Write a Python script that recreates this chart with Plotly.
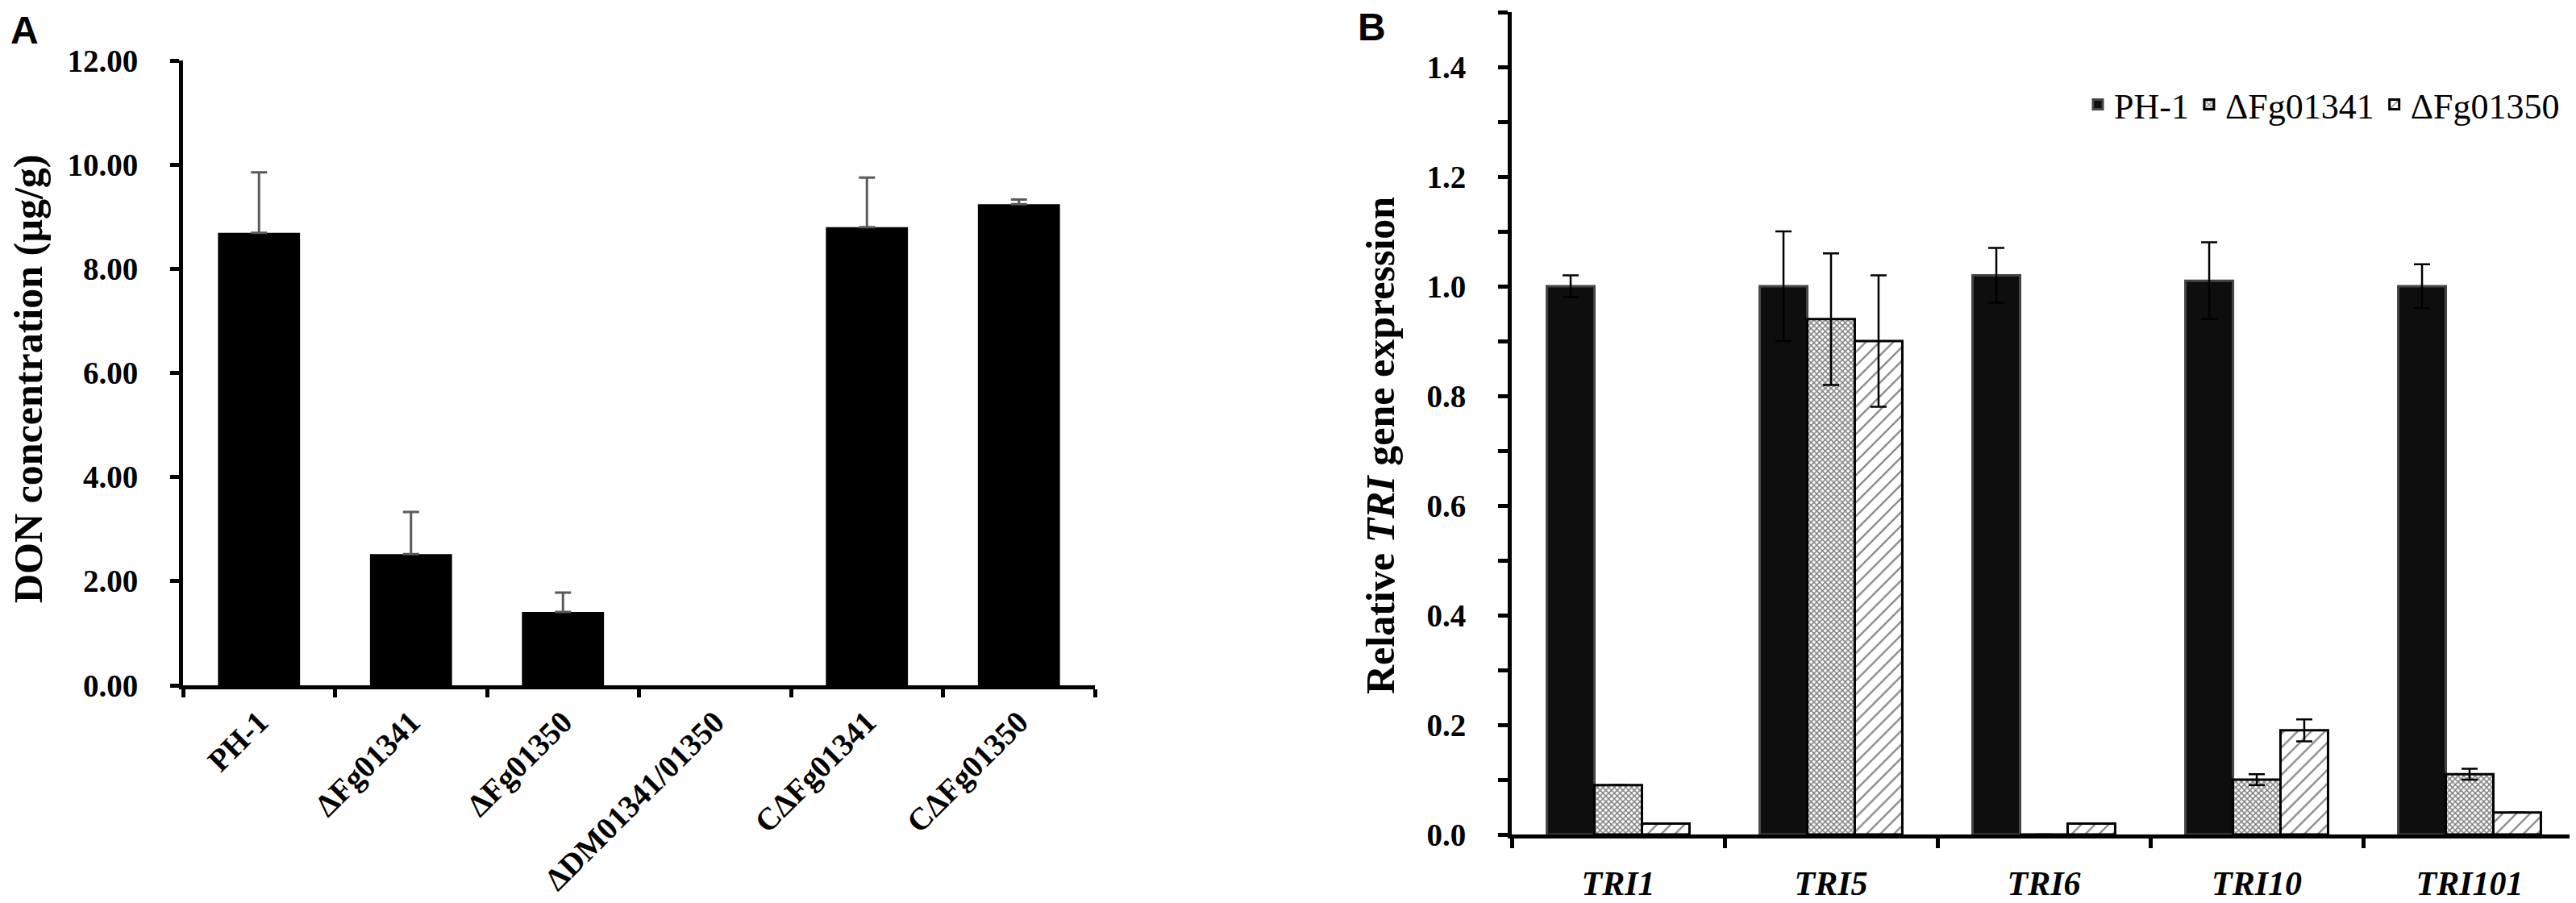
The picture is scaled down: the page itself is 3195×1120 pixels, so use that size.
import plotly.graph_objects as go

# ---------------- Data ----------------
strains_a = ["PH-1", "ΔFg01341", "ΔFg01350", "ΔDM01341/01350", "CΔFg01341", "CΔFg01350"]
don_values = [8.69, 2.52, 1.41, 0.0, 8.80, 9.24]
don_errors = [1.16, 0.81, 0.37, None, 0.95, 0.09]

genes_b = ["TRI1", "TRI5", "TRI6", "TRI10", "TRI101"]
ph1_values = [1.00, 1.00, 1.02, 1.01, 1.00]
ph1_errors = [0.02, 0.10, 0.05, 0.07, 0.04]
d1341_values = [0.09, 0.94, 0.0, 0.10, 0.11]
d1341_errors = [0.0, 0.12, 0.0, 0.01, 0.01]
d1350_values = [0.02, 0.90, 0.02, 0.19, 0.04]
d1350_errors = [0.0, 0.12, 0.0, 0.02, 0.0]

W, H = 3195, 1120
SERIF = "Liberation Serif"
SANS = "Liberation Sans"

def px_x(v):
    return v / W

def px_y(v):
    return 1 - v / H

fig = go.Figure()

# Panel A: bars with error bars, and bars without measured error
with_err = [i for i, e in enumerate(don_errors) if e is not None]
no_err = [i for i, e in enumerate(don_errors) if e is None]

fig.add_trace(go.Bar(
    x=[strains_a[i] for i in with_err], y=[don_values[i] for i in with_err],
    xaxis="x", yaxis="y", offsetgroup="A", width=0.54,
    marker=dict(color="#000000", line=dict(width=0)),
    error_y=dict(type="data", array=[don_errors[i] for i in with_err],
                 arrayminus=[0] * len(with_err), symmetric=False,
                 color="#5a5a5a", thickness=3, width=10),
    showlegend=False,
))
fig.add_trace(go.Bar(
    x=[strains_a[i] for i in no_err], y=[don_values[i] for i in no_err],
    xaxis="x", yaxis="y", offsetgroup="A", width=0.54,
    marker=dict(color="#000000", line=dict(width=0)),
    showlegend=False,
))

# Panel B
fig.add_trace(go.Bar(
    name="PH-1", x=genes_b, y=ph1_values, xaxis="x2", yaxis="y2",
    marker=dict(color="#0e0e0e", line=dict(color="#454545", width=3)),
    error_y=dict(type="data", array=ph1_errors, color="#000000", thickness=2.5, width=10),
))
fig.add_trace(go.Bar(
    name="ΔFg01341", x=genes_b, y=d1341_values, xaxis="x2", yaxis="y2",
    marker=dict(color="#ffffff", line=dict(color="#000000", width=3),
                pattern=dict(shape="x", fgcolor="#000000", bgcolor="#ffffff", size=5, solidity=0.5)),
    error_y=dict(type="data", array=d1341_errors, color="#000000", thickness=2.5, width=10),
))
fig.add_trace(go.Bar(
    name="ΔFg01350", x=genes_b, y=d1350_values, xaxis="x2", yaxis="y2",
    marker=dict(color="#ffffff", line=dict(color="#000000", width=3),
                pattern=dict(shape="/", fgcolor="#000000", bgcolor="#ffffff", size=12, solidity=0.18)),
    error_y=dict(type="data", array=d1350_errors, color="#000000", thickness=2.5, width=10),
))

axis_common = dict(showline=True, linecolor="#000000", linewidth=5, showgrid=False,
                   zeroline=False, ticks="outside", tickcolor="#000000", tickwidth=5,
                   automargin=False)

fig.update_layout(
    width=W, height=H,
    margin=dict(l=0, r=0, t=0, b=0),
    paper_bgcolor="#ffffff", plot_bgcolor="#ffffff",
    barmode="group",
    bargap=0.33, bargroupgap=0,
    xaxis=dict(domain=[px_x(219), px_x(1350)], anchor="y", type="category",
               categoryorder="array", categoryarray=strains_a,
               range=[-0.5, 5.5], tickson="boundaries", ticklen=10, tickangle=-45,
               tickfont=dict(family=SERIF, size=39, color="#000000", weight="bold"),
               ticklabelstandoff=2, **axis_common),
    yaxis=dict(domain=[px_y(842), px_y(67)], anchor="x", range=[0, 12], dtick=2,
               tickformat=".2f", ticklen=11, ticklabelstandoff=32,
               tickfont=dict(family=SERIF, size=39, color="#000000", weight="bold"),
               **axis_common),
    xaxis2=dict(domain=[px_x(1867), px_x(3187)], anchor="y2", type="category",
                range=[-0.5, 4.5], tickson="boundaries", ticklen=12,
                tickfont=dict(family=SERIF, size=42, color="#000000", weight="bold", style="italic"),
                ticklabelstandoff=20, **axis_common),
    yaxis2=dict(domain=[px_y(1027), px_y(7)], anchor="x2", range=[0, 1.5], dtick=0.2,
                tickformat=".1f", ticklen=12, ticklabelstandoff=32,
                tickfont=dict(family=SERIF, size=39, color="#000000", weight="bold"),
                minor=dict(dtick=0.1, ticks="outside", ticklen=12, tickwidth=5, tickcolor="#000000"),
                **axis_common),
    legend=dict(orientation="h", x=px_x(3172), xanchor="right", y=px_y(122), yanchor="middle",
                font=dict(family=SERIF, size=44, color="#000000"),
                bgcolor="rgba(0,0,0,0)", traceorder="normal"),
    showlegend=True,
)

fig.add_annotation(text="<b>DON concentration (µg/g)</b>", xref="paper", yref="paper",
                   x=px_x(27), y=px_y(462), xanchor="center", yanchor="middle",
                   textangle=-90, showarrow=False,
                   font=dict(family=SERIF, size=50, color="#000000"))
fig.add_annotation(text="<b>Relative <i>TRI</i> gene expression</b>", xref="paper", yref="paper",
                   x=px_x(1704), y=px_y(545), xanchor="center", yanchor="middle",
                   textangle=-90, showarrow=False,
                   font=dict(family=SERIF, size=50, color="#000000"))
fig.add_annotation(text="<b>A</b>", xref="paper", yref="paper", x=px_x(3), y=px_y(29),
                   xanchor="left", yanchor="middle", showarrow=False,
                   font=dict(family=SANS, size=48, color="#000000"))
fig.add_annotation(text="<b>B</b>", xref="paper", yref="paper", x=px_x(1674), y=px_y(25),
                   xanchor="left", yanchor="middle", showarrow=False,
                   font=dict(family=SANS, size=48, color="#000000"))

fig.write_html("out.html")
